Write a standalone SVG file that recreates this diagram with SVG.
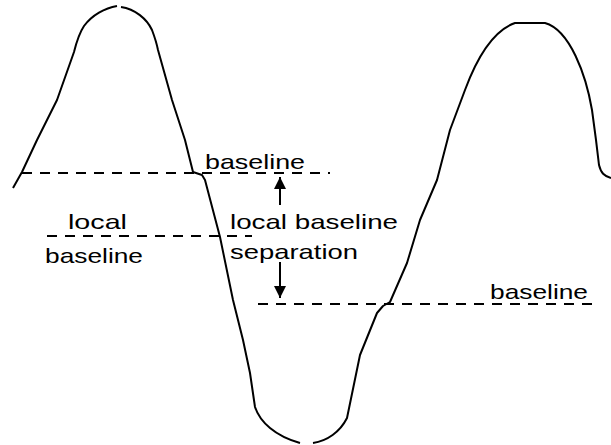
<svg xmlns="http://www.w3.org/2000/svg" width="611" height="445" viewBox="0 0 611 445">
<style>
.curve{fill:none;stroke:#000;stroke-width:2;stroke-linejoin:round}
.dash{fill:none;stroke:#000;stroke-width:2;stroke-dasharray:10 8}
.arrow{stroke:#000;stroke-width:2}
.lbl{font-family:"Liberation Sans",Arial,sans-serif;font-size:21px;fill:#000}
</style>
<defs>
<marker id="ah" markerWidth="13" markerHeight="12" refX="12" refY="6" orient="auto" markerUnits="userSpaceOnUse">
<path d="M0,0 L12,6 L0,12 Z" fill="#000"/>
</marker>
</defs>
<rect width="611" height="445" fill="#fff"/>
<g id="waveform">
<path class="curve" d="M13,188 L22,172 L37,140 L57,100 L74,52 C77,40 80,32 84,26 C92,15 105,8 117,6 M121,7 C135,9 147,19 152,30 C155,38 157,45 158,50 L172,100 L185,140 L193,172 L202,175 L205,180 L220,237 L233,300 L243,340 L250,373 L255,407 C260,422 275,436 300,443 M313,443 C327,441 340,432 347,418 L360,355 L377,313 L383,306 L390,302 L407,263 L420,220 L437,180 L450,130 L465,90 C478,55 495,30 515,23 L545,23 C570,30 586,75 592,110 L596,140 L599,165 C601,173 604,176 611,178"/>
</g>
<g id="connectors">
<line class="dash" x1="22" y1="173" x2="330" y2="173"/>
<line class="dash" x1="47" y1="236" x2="252" y2="236"/>
<line class="dash" x1="258" y1="304" x2="595" y2="304"/>
<line class="arrow" x1="280" y1="205" x2="280" y2="177" marker-end="url(#ah)"/>
<line class="arrow" x1="280" y1="262" x2="280" y2="298" marker-end="url(#ah)"/>
</g>
<g id="label-baseline-top"><text class="lbl" x="205" y="169" textLength="100" lengthAdjust="spacingAndGlyphs">baseline</text></g>
<g id="label-local-left"><text class="lbl" x="68" y="229" textLength="59" lengthAdjust="spacingAndGlyphs">local</text></g>
<g id="label-baseline-left"><text class="lbl" x="45" y="263" textLength="98" lengthAdjust="spacingAndGlyphs">baseline</text></g>
<g id="label-separation"><text class="lbl" x="230" y="229" textLength="168" lengthAdjust="spacingAndGlyphs">local baseline</text><text class="lbl" x="230" y="259" textLength="128" lengthAdjust="spacingAndGlyphs">separation</text></g>
<g id="label-baseline-right"><text class="lbl" x="490" y="299" textLength="98" lengthAdjust="spacingAndGlyphs">baseline</text></g>
</svg>
